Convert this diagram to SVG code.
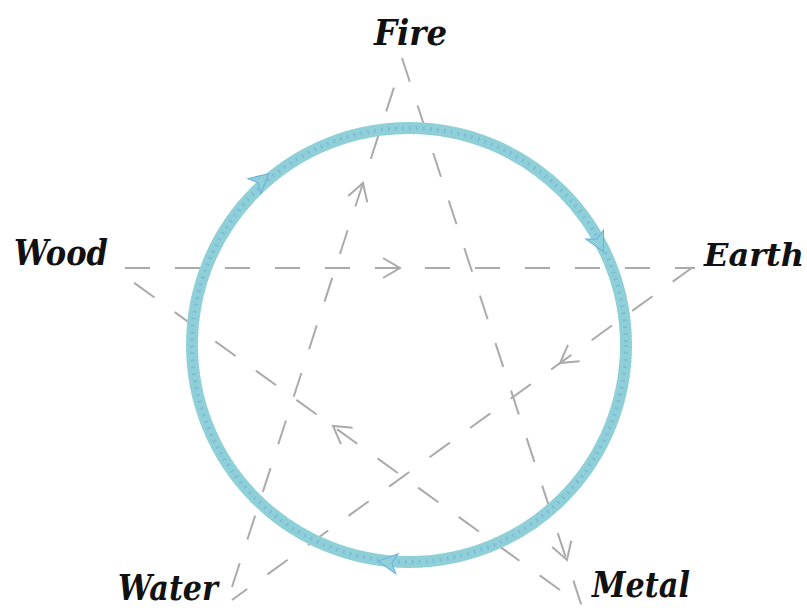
<svg xmlns="http://www.w3.org/2000/svg" width="807" height="610" viewBox="0 0 807 610">
<style>
.lbl{font-family:"DejaVu Serif","Liberation Serif",serif;font-style:italic;font-weight:bold;font-size:36px;fill:#111;}
.dash{fill:none;stroke:#aaaaaa;stroke-width:2;stroke-dasharray:25 25;}
.chev{fill:none;stroke:#aaaaaa;stroke-width:2;}
.ring{fill:none;stroke:#8fd0d8;stroke-width:12;}
.ring2{fill:none;stroke:#6aa6dc;stroke-width:4;stroke-dasharray:2 5;opacity:0.45;}
.cah{fill:#8fd0d8;stroke:#6aaede;stroke-width:1;}
</style>
<defs>
<path id="chev" class="chev" d="M-17,-10 L0,0 L-17,10"/>
<path id="cah" class="cah" d="M5,0 L-14,-10 L-9,0 L-14,10 Z"/>
</defs>
<g id="connectors">
<path class="dash" d="M125,268 L695,268"/>
<use href="#chev" transform="translate(400,268)"/>
<path class="dash" d="M693,267 L232,600"/>
<use href="#chev" transform="translate(560,363) rotate(144.2)"/>
<path class="dash" d="M232,587 L398,75"/>
<use href="#chev" transform="translate(363,183) rotate(-72)"/>
<path class="dash" d="M402,58 L582,607"/>
<use href="#chev" transform="translate(567,560) rotate(71.8)"/>
<path class="dash" d="M560,590 L126,277"/>
<use href="#chev" transform="translate(333,426) rotate(-144.2)"/>
</g>
<g id="cycle">
<circle class="ring" cx="409" cy="345" r="217"/>
<circle class="ring2" cx="409" cy="345" r="217"/>
<use href="#cah" transform="translate(265,177) rotate(-40.6)"/>
<use href="#cah" transform="translate(601,247) rotate(63)"/>
<use href="#cah" transform="translate(383,562) rotate(186.8)"/>
</g>
<g id="fire"><text class="lbl" x="374" y="45" textLength="73" lengthAdjust="spacingAndGlyphs">Fire</text></g>
<g id="wood"><text class="lbl" x="14" y="265" textLength="94" lengthAdjust="spacingAndGlyphs">Wood</text></g>
<g id="earth"><text class="lbl" x="704" y="266" style="font-size:32px">Earth</text></g>
<g id="water"><text class="lbl" x="118" y="600" textLength="100" lengthAdjust="spacingAndGlyphs">Water</text></g>
<g id="metal"><text class="lbl" x="592" y="597" textLength="98" lengthAdjust="spacingAndGlyphs">Metal</text></g>
</svg>
